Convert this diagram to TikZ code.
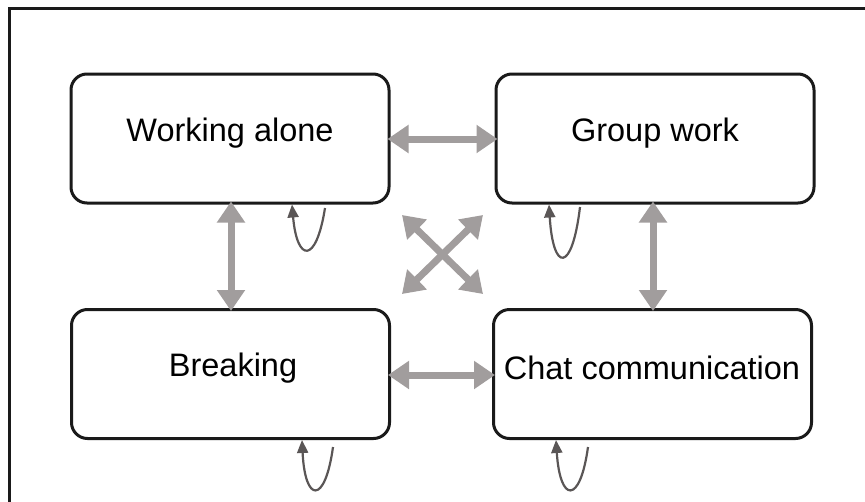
\documentclass[tikz,border=0pt]{standalone}
\usepackage{fontspec}
\setmainfont{Liberation Sans}
\usetikzlibrary{arrows.meta}
\definecolor{boxline}{HTML}{1A1A1A}
\definecolor{linkgray}{HTML}{A19D9D}
\definecolor{loopgray}{HTML}{5A5656}
\tikzset{
  statebox/.style={draw=boxline, line width=3pt, rounded corners=16pt,
    minimum width=318pt, minimum height=129pt, inner sep=0pt},
  label text/.style={font=\fontsize{32.5}{38}\selectfont, anchor=center},
  link/.style={draw=linkgray, line width=7pt,
    {Triangle[width=27pt,length=21pt]}-{Triangle[width=27pt,length=21pt]}},
  link touch/.style={link, shorten <=-3pt, shorten >=-3pt},
  selfloop/.style={draw=loopgray, line width=2.2pt,
    -{Triangle[width=11pt,length=13pt]}}
}
\begin{document}
\begin{tikzpicture}[x=1pt,y=-1pt]
  \useasboundingbox (0,0) rectangle (865,501);
  % outer frame (runs off the page on the right and bottom)
  \draw[boxline, line width=3pt] (9,520) -- (9,8) -- (880,8);

  % the four states
  \node[statebox] (wa) at (230,138.5) {};
  \node[statebox] (gw) at (655,138.5) {};
  \node[statebox] (br) at (230.5,374) {};
  \node[statebox] (cc) at (652.5,374) {};

  \node[label text] at (230,133) {Working alone};
  \node[label text] at (655,133) {Group work};
  \node[label text] at (233,368) {Breaking};
  \node[label text] at (652,368) {Chat communication};

  % transitions between neighbouring states
  \draw[link touch] (wa.east |- 0,139) -- (gw.west |- 0,139);
  \draw[link touch] (br.east |- 0,375) -- (cc.west |- 0,375);
  \draw[link touch] (wa.south -| 231,0) -- (br.north -| 231,0);
  \draw[link touch] (gw.south -| 653,0) -- (cc.north -| 653,0);

  % diagonal transitions
  \coordinate (dtl) at (402,215);
  \coordinate (dtr) at (483,215);
  \coordinate (dbl) at (402,294);
  \coordinate (dbr) at (483,294);
  \draw[link] (dtl) -- (dbr);
  \draw[link] (dtr) -- (dbl);

  % self transitions
  \coordinate (la) at (325,208);
  \coordinate (lb) at (580,207);
  \coordinate (lc) at (333,447);
  \coordinate (ld) at (588,447);
  \draw[selfloop] (la) .. controls (316,265) and (297,262) .. (wa.south -| 292,0);
  \draw[selfloop] (lb) .. controls (572,274) and (553,272) .. (gw.south -| 549,0);
  \draw[selfloop] (lc) .. controls (325,505) and (305,503) .. (br.south -| 302,0);
  \draw[selfloop] (ld) .. controls (580,505) and (560,503) .. (cc.south -| 556,0);
\end{tikzpicture}
\end{document}
